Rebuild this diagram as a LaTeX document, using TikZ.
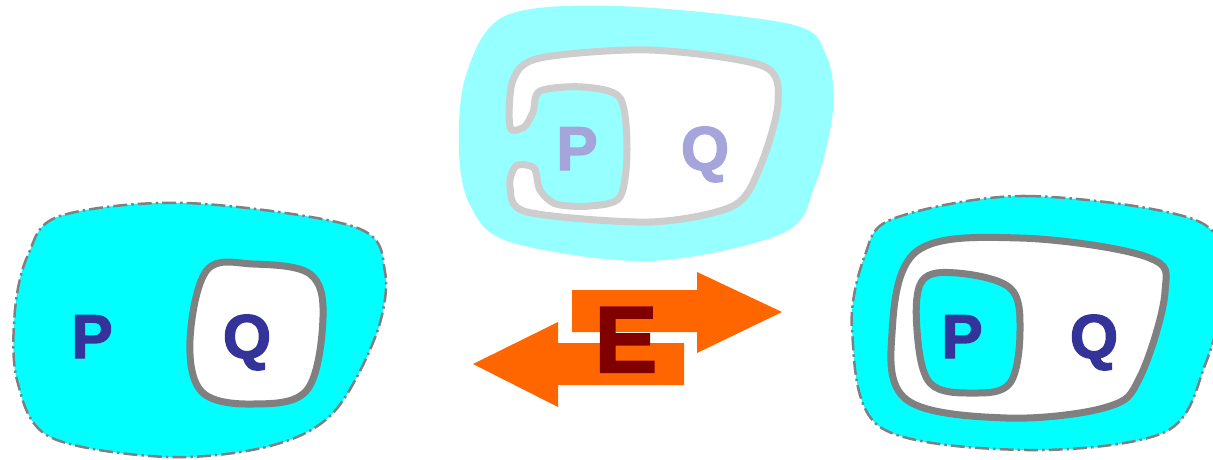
\documentclass[tikz,border=0pt]{standalone}
\usepackage{fontspec}
\setmainfont{Liberation Sans}
\newfontfamily\heavyfont{Liberation Sans Bold}[FakeBold=2.2]
\begin{document}
\begin{tikzpicture}[x=1pt,y=-1pt,
  outerblob/.style={fill=aqua, draw=gray, line width=2.5pt, dash pattern=on 14pt off 4pt on 2.5pt off 4pt},
  ringline/.style={draw=gray, line width=7pt},
  fadedblob/.style={fill=aquafade},
  fadedring/.style={draw=grayfade, line width=7pt},
  letter/.style={font=\heavyfont\fontsize{62}{62}\selectfont, inner sep=0pt, anchor=base},
]
\definecolor{aqua}{RGB}{0,255,255}
\definecolor{aquafade}{RGB}{150,255,255}
\definecolor{grayfade}{RGB}{205,205,205}
\definecolor{gray}{RGB}{128,128,128}
\definecolor{pq}{HTML}{333399}
\definecolor{pqfade}{RGB}{165,165,220}
\definecolor{arr}{HTML}{FF6600}
\definecolor{edark}{HTML}{800000}
\useasboundingbox (0,0) rectangle (1213,459);
\clip (0,0) rectangle (1213,459);

% top faded blob
\path[fadedblob] plot[smooth cycle, tension=0.55] coordinates {
 (505,16) (617,6) (790,24) (826,55) (833,110) (815,185) (783,233) (650,261) (510,242) (470,205) (459,150) (466,75)};
\path[fill=white, fadedring] plot[smooth cycle, tension=0.5] coordinates {
 (510,127) (513,80) (540,58) (650,50) (763,66) (778,103) (760,167) (733,206) (650,222) (527,212) (510,187) (516,166)
 (534,168) (540,190) (556,204) (590,206) (620,197) (627,150) (620,98) (583,87) (540,91) (533,112) (524,127)};
\node[letter, text=pqfade] (tP) at (577,170) {P};
\node[letter, text=pqfade] (tQ) at (705,170) {Q};

% left blob
\path[outerblob] plot[smooth cycle, tension=0.55] coordinates {
 (60,216) (187,203) (355,227) (385,272) (376,335) (333,413) (270,446) (167,457) (50,437) (17,380) (15,310) (28,255)};
\path[fill=white, ringline] plot[smooth cycle, tension=0.6] coordinates {
 (207,270) (253,264) (310,274) (323,317) (307,390) (253,404) (202,392) (190,340)};
\node[letter, text=pq] (lP) at (92,358) {P};
\node[letter, text=pq] (lQ) at (247,358) {Q};

% right blob
\path[outerblob] plot[smooth cycle, tension=0.55] coordinates {
 (895,218) (1027,196) (1200,222) (1222,290) (1205,365) (1165,432) (1027,450) (880,427) (852,330) (865,255)};
\path[fill=white, ringline] plot[smooth cycle, tension=0.6] coordinates {
 (917,251) (1020,238) (1147,257) (1165,292) (1140,377) (1107,407) (1007,418) (907,400) (892,333)};
\path[fill=aqua, ringline] plot[smooth cycle, tension=0.6] coordinates {
 (922,281) (957,273) (1010,288) (1020,330) (1010,383) (973,393) (930,383) (917,330)};
\node[letter, text=pq] (rP) at (962,358) {P};
\node[letter, text=pq] (rQ) at (1094,358) {Q};

% arrows
\fill[arr] (572,290) -- (697,290) -- (697,272) -- (782,312) -- (697,353) -- (697,332) -- (572,332) -- cycle;
\fill[arr] (684,343) -- (558,343) -- (558,322) -- (473,364) -- (558,407) -- (558,385) -- (684,385) -- cycle;
\node[font=\heavyfont\fontsize{94}{94}\selectfont, text=edark, inner sep=0pt, anchor=base] (E) at (626,372) {E};
\end{tikzpicture}
\end{document}
